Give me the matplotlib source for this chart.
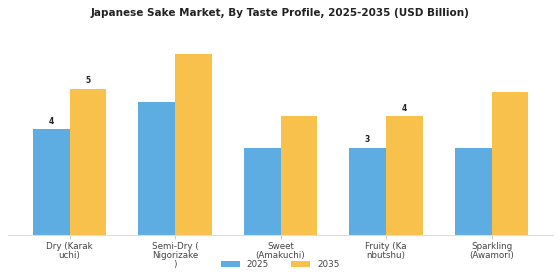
import textwrap
import numpy as np
import matplotlib
matplotlib.use('Agg')
import matplotlib.pyplot as plt

categories = ['Dry (Karakuchi)', 'Semi-Dry (Nigorizake)', 'Sweet (Amakuchi)',
              'Fruity (Kanbutshu)', 'Sparkling (Awamori)']
values_2025 = [3.65, 4.6, 3.0, 3.02, 3.0]
values_2035 = [5.05, 6.25, 4.1, 4.1, 4.95]
labeled = [0, 3]  # only these groups carry value labels

blue = '#5DADE2'
orange = '#F8C14B'


def main():
    fig = plt.figure(figsize=(5.6, 2.8), dpi=100)
    ax = fig.add_axes([0.014, 0.161, 0.974, 0.678])
    x = np.arange(len(categories))
    w = 0.35
    b1 = ax.bar(x - w / 2, values_2025, w, color=blue, label='2025')
    b2 = ax.bar(x + w / 2, values_2035, w, color=orange, label='2035')
    for i in labeled:
        for bars in (b1, b2):
            r = bars[i]
            ax.text(r.get_x() + r.get_width() / 2, r.get_height() + 0.12,
                    '%.0f' % r.get_height(), ha='center', va='bottom',
                    fontsize=5.5, fontweight='bold', color='#222222')
    ax.set_xticks(x)
    ax.set_xticklabels([textwrap.fill(c, 10) for c in categories],
                       fontsize=6.3, color='#444444', linespacing=1.0)
    ax.tick_params(axis='x', length=3, color='#cccccc', pad=2)
    ax.set_yticks([])
    for s in ['top', 'right', 'left']:
        ax.spines[s].set_visible(False)
    ax.spines['bottom'].set_color('#dddddd')
    fig.suptitle('Japanese Sake Market, By Taste Profile, 2025-2035 (USD Billion)',
                 fontsize=7.5, fontweight='bold', color='#222222', y=0.97)
    fig.legend(loc='lower center', ncol=2, frameon=False, fontsize=6.3,
               bbox_to_anchor=(0.5, 0.01), handlelength=2.2, handleheight=0.6,
               columnspacing=2.5, labelcolor='#444444')
    fig.savefig('out.png', dpi=100)


if __name__ == "__main__":
    main()
